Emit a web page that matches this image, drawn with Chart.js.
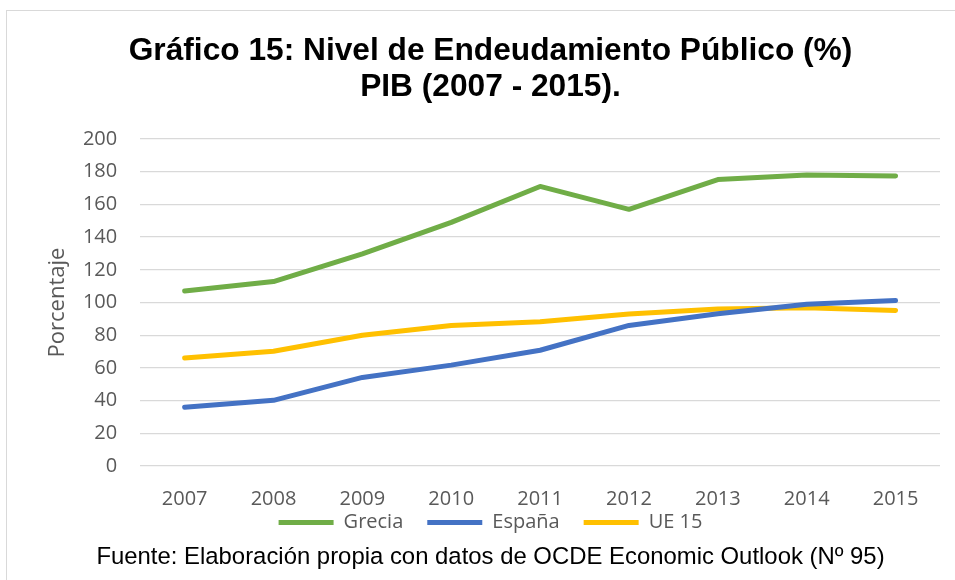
<!DOCTYPE html>
<html lang="es">
<head>
    <meta charset="UTF-8">
    <title>Nivel de Endeudamiento Público</title>
    <script src="https://cdn.jsdelivr.net/npm/chart.js"></script>
    <style>
        body { margin: 0; background: #fff; overflow: hidden; }
        #wrap { position: relative; width: 955px; height: 580px; }
        #frame { position: absolute; left: 6px; top: 10px; width: 1000px; height: 700px; border: 1.5px solid #d9d9d9; }
        canvas { position: absolute; left: 0; top: 0; }
    </style>
</head>
<body>
    <div id="wrap">
        <div id="frame"></div>
        <canvas id="deudaChart" width="955" height="580"></canvas>
    </div>

    <script>
        // Datos
        const years = ['2007', '2008', '2009', '2010', '2011', '2012', '2013', '2014', '2015'];
        const grecia = [107, 112.8, 129.8, 149, 171, 157, 175.2, 178, 177.4];
        const espana = [35.9, 40.2, 54.2, 61.7, 70.8, 86, 93.1, 98.9, 101.3];
        const ue15 = [66, 70.2, 80, 86, 88.2, 93, 96, 96.8, 95.2];

        const gray = '#595959';

        function serie(label, data, color) {
            return {
                label: label,
                data: data,
                borderColor: color,
                backgroundColor: color,
                borderWidth: 5,
                borderCapStyle: 'round',
                borderJoinStyle: 'round',
                pointRadius: 0,
                tension: 0
            };
        }

        const ctx = document.getElementById('deudaChart').getContext('2d');
        new Chart(ctx, {
            type: 'line',
            data: {
                labels: years,
                datasets: [
                    serie('Grecia', grecia, '#70ad47'),
                    serie('España', espana, '#4472c4'),
                    serie('UE 15', ue15, '#ffc000')
                ]
            },
            options: {
                responsive: false,
                animation: false,
                devicePixelRatio: 1,
                layout: { padding: { left: 41, right: 15, top: 0, bottom: 0 } },
                plugins: {
                    title: {
                        display: true,
                        text: ['Gráfico 15: Nivel de Endeudamiento Público (%)', 'PIB (2007 - 2015).'],
                        color: '#000',
                        font: { family: '"Liberation Sans", Arial, sans-serif', size: 31.7, weight: 'bold', lineHeight: 1.13 },
                        padding: { top: 33.8, bottom: 33.6 }
                    },
                    subtitle: {
                        display: true,
                        position: 'bottom',
                        text: 'Fuente: Elaboración propia con datos de OCDE Economic Outlook (Nº 95)',
                        color: '#000',
                        font: { family: '"Liberation Sans", Arial, sans-serif', size: 23.9, weight: 'normal' },
                        padding: { top: 1, bottom: 7.8 }
                    },
                    legend: {
                        position: 'bottom',
                        labels: {
                            usePointStyle: true,
                            pointStyle: 'line',
                            pointStyleWidth: 55,
                            padding: 24,
                            color: gray,
                            font: { family: '"Open Sans", sans-serif', size: 20 }
                        }
                    },
                    tooltip: { enabled: false }
                },
                scales: {
                    x: {
                        offset: true,
                        grid: { display: false },
                        border: { display: false },
                        ticks: {
                            color: gray,
                            mirror: true,
                            padding: -45,
                            font: { family: '"Open Sans", sans-serif', size: 20 }
                        },
                        // keep the legend close to the axis labels
                        afterFit: (scale) => { scale.height = 22.5; }
                    },
                    y: {
                        min: 0,
                        max: 200,
                        ticks: {
                            stepSize: 20,
                            color: gray,
                            padding: 23,
                            font: { family: '"Open Sans", sans-serif', size: 20 }
                        },
                        grid: { color: '#d9d9d9', lineWidth: 1.3, drawTicks: false },
                        border: { display: false },
                        title: {
                            display: true,
                            text: 'Porcentaje',
                            color: gray,
                            font: { family: '"Open Sans", sans-serif', size: 22 },
                            padding: { top: 4, bottom: -11.5 }
                        }
                    }
                }
            }
        });
    </script>
</body>
</html>
